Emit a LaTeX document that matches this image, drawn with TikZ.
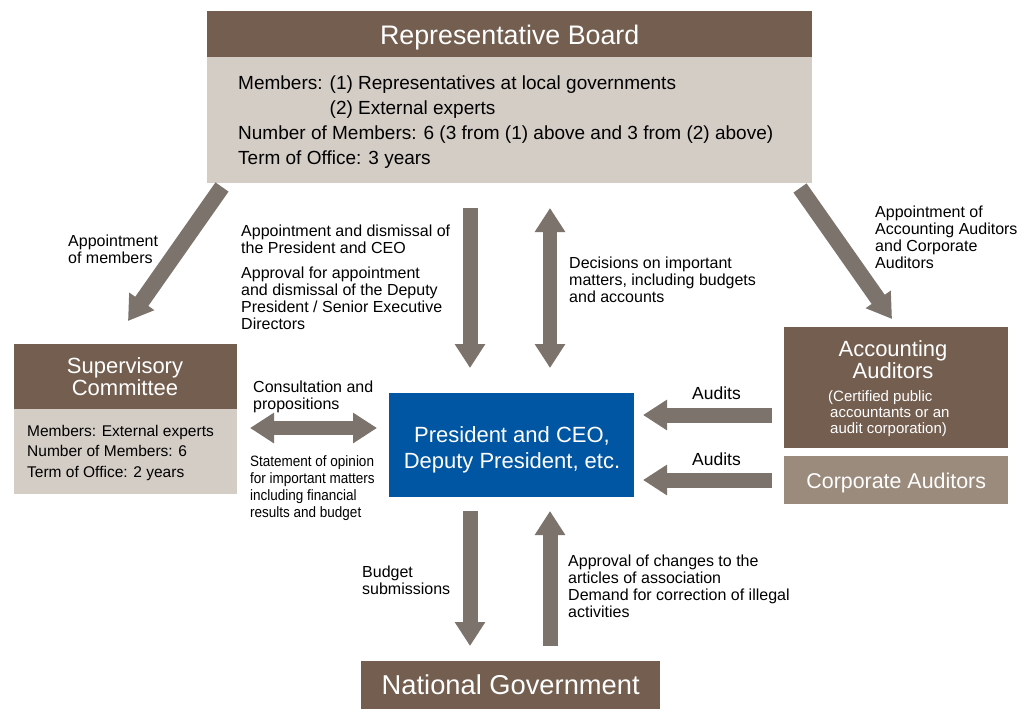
\documentclass[tikz,border=0pt]{standalone}
\usepackage{fontspec}
\setmainfont{Liberation Sans}
\newfontfamily\narrowfont{Liberation Sans}[FakeStretch=0.9]
\usetikzlibrary{arrows.meta}
\definecolor{hdrbrown}{HTML}{735E4F}
\definecolor{bodylight}{HTML}{D4CDC6}
\definecolor{arrowgray}{HTML}{7B736C}
\definecolor{ceoblue}{HTML}{0056A2}
\definecolor{corpbrown}{HTML}{9B8B7C}
\newcommand\myfs[2]{\fontsize{#1}{#2}\selectfont}
\tikzset{
  box/.style={inner sep=0pt, anchor=north west, draw=none},
  hdr/.style={box, fill=hdrbrown, text=white},
  bodybox/.style={box, fill=bodylight},
  lbl/.style={inner sep=0pt, anchor=base west, align=left, text=black, font=\myfs{16}{17}},
  bigarrow/.style={draw=arrowgray, line width=15pt, -{Triangle[width=29pt,length=24pt]}},
  dblarrow/.style={draw=arrowgray, line width=14pt, {Triangle[width=29pt,length=24pt]}-{Triangle[width=29pt,length=24pt]}}
}
\begin{document}
\begin{tikzpicture}[x=1pt,y=-1pt]
\useasboundingbox (0,0) rectangle (1027,710);
% Representative Board
\node[hdr, minimum width=605pt, minimum height=46pt] (rb) at (207,11) {};
\node[text=white, font=\myfs{26.8}{30}, inner sep=0pt] (rbt) at ([yshift=-3pt]rb.center) {Representative Board};
\node[bodybox, minimum width=605pt, minimum height=126pt] (rbb) at (207,57) {};
\node[inner sep=0pt, anchor=base west, align=left, font=\myfs{19}{25}] (rbtext) at (238,164)
  {Members: (1) Representatives at local governments\\
   \hphantom{Members: }(2) External experts\\
   Number of Members: 6 (3 from (1) above and 3 from (2) above)\\
   Term of Office: 3 years};
% Supervisory Committee
\node[hdr, minimum width=223pt, minimum height=65pt] (sc) at (14,344) {};
\node[inner sep=0pt, anchor=base, align=center, text=white, font=\myfs{22}{22}] (sct) at (125,395) {Supervisory\\Committee};
\node[bodybox, minimum width=223pt, minimum height=85pt] (scb) at (14,409) {};
\node[inner sep=0pt, anchor=base west, align=left, font=\myfs{15.5}{20.5}] (scbt) at (27,477)
  {Members: External experts\\Number of Members: 6\\Term of Office: 2 years};
% President
\node[box, fill=ceoblue, minimum width=245pt, minimum height=104pt] (ceo) at (389,393) {};
\node[inner sep=0pt, anchor=base, align=center, text=white, font=\myfs{22}{26}] (ceot) at (512,468) {President and CEO,\\Deputy President, etc.};
% Accounting Auditors
\node[hdr, minimum width=224pt, minimum height=121pt] (aa) at (784,327) {};
\node[inner sep=0pt, anchor=base, align=center, text=white, font=\myfs{22}{22}] (aat) at (893,378) {Accounting\\Auditors};
\node[inner sep=0pt, anchor=base west, align=left, text=white, font=\myfs{15}{16}] (aast) at (828,433) {(Certified public\\\hspace{2pt}accountants or an\\\hspace{2pt}audit corporation)};
% Corporate Auditors
\node[box, fill=corpbrown, minimum width=224pt, minimum height=48pt] (ca) at (784,456) {};
\node[inner sep=0pt, text=white, font=\myfs{21.4}{24}] (cat) at ([yshift=-3pt]ca.center) {Corporate Auditors};
% National Government
\node[hdr, minimum width=299pt, minimum height=48pt] (ng) at (361,661) {};
\node[inner sep=0pt, text=white, font=\myfs{27.3}{30}] (ngt) at (ng.center) {National Government};
% arrow end points
\coordinate (dlA) at (222,187); \coordinate (dlB) at (128,321);
\coordinate (drA) at (800,188); \coordinate (drB) at (892,319);
\coordinate (v1A) at (470,208); \coordinate (v1B) at (470,368);
\coordinate (v2A) at (550,208); \coordinate (v2B) at (550,368);
\coordinate (hA) at (250,428); \coordinate (hB) at (377,428);
\coordinate (a1A) at (772,415); \coordinate (a1B) at (643,415);
\coordinate (a2A) at (772,480); \coordinate (a2B) at (643,480);
\coordinate (v3A) at (470,511); \coordinate (v3B) at (470,646);
\coordinate (v4A) at (550,646); \coordinate (v4B) at (550,511);
% arrows
\draw[bigarrow, line width=16pt] (dlA) -- (dlB);
\draw[bigarrow, line width=16pt] (drA) -- (drB);
\draw[bigarrow] (v1A) -- (v1B);
\draw[dblarrow] (v2A) -- (v2B);
\draw[dblarrow] (hA) -- (hB);
\draw[bigarrow] (a1A) -- (a1B);
\draw[bigarrow] (a2A) -- (a2B);
\draw[bigarrow] (v3A) -- (v3B);
\draw[bigarrow] (v4A) -- (v4B);
% labels
\node[lbl] (l1) at (68,263) {Appointment\\of members};
\node[lbl] (l2) at (241,253) {Appointment and dismissal of\\the President and CEO};
\node[lbl] (l3) at (241,329) {Approval for appointment\\and dismissal of the Deputy\\President / Senior Executive\\Directors};
\node[lbl] (l4) at (569,302) {Decisions on important\\matters, including budgets\\and accounts};
\node[lbl] (l5) at (875,268) {Appointment of\\Accounting Auditors\\and Corporate\\Auditors};
\node[lbl] (l6) at (253,409) {Consultation and\\propositions};
\node[lbl, font=\narrowfont\myfs{15}{17}] (l7) at (250,517) {Statement of opinion\\for important matters\\including financial\\results and budget};
\node[lbl, font=\myfs{17.5}{20}] (l8) at (692,399) {Audits};
\node[lbl, font=\myfs{17.5}{20}] (l9) at (692,465) {Audits};
\node[lbl] (l10) at (362,594) {Budget\\submissions};
\node[lbl] (l11) at (568,617) {Approval of changes to the\\articles of association\\Demand for correction of illegal\\activities};
\end{tikzpicture}
\end{document}
